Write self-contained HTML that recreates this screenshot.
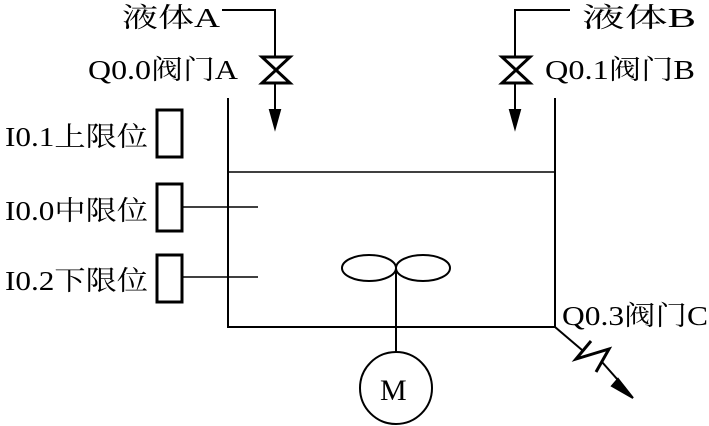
<!DOCTYPE html>
<html><head><meta charset="utf-8"><style>
html,body{margin:0;padding:0;background:#fff;width:709px;height:426px;overflow:hidden}
text{font-family:"Liberation Serif","Noto Serif CJK SC",serif;font-size:27px;fill:#000}
</style></head><body>
<svg width="709" height="426" viewBox="0 0 709 426" xmlns="http://www.w3.org/2000/svg">
<g stroke="#000" fill="none" stroke-width="2">
<polyline points="228,98 228,327 555,327 555,98"/>
<line x1="228" y1="172" x2="555" y2="172" stroke-width="1.5"/>
<polyline points="222,10 275,10 275,57"/>
<polygon points="262,57 290,57 262,83 290,83" stroke-width="3"/>
<line x1="275" y1="83" x2="275" y2="115"/>
<polygon points="270,110 280,110 275,128" fill="#000"/>
<polyline points="570,10 515,10 515,57"/>
<polygon points="502,57 530,57 502,83 530,83" stroke-width="3"/>
<line x1="515" y1="83" x2="515" y2="115"/>
<polygon points="510,110 520,110 515,128" fill="#000"/>
<rect x="157" y="110" width="25" height="47" stroke-width="3"/>
<rect x="157" y="184" width="25" height="47" stroke-width="3"/>
<rect x="157" y="255" width="25" height="47" stroke-width="3"/>
<line x1="182" y1="207" x2="258" y2="207" stroke-width="1.5"/>
<line x1="182" y1="277" x2="258" y2="277" stroke-width="1.5"/>
<ellipse cx="369" cy="268" rx="27" ry="13"/>
<ellipse cx="423" cy="268" rx="27" ry="13"/>
<line x1="396" y1="268" x2="396" y2="352"/>
<circle cx="396" cy="388" r="36"/>
<line x1="555" y1="327" x2="582" y2="350"/>
<polyline points="591,341 576,359 609,349 596,372" stroke-width="3"/>
<line x1="602" y1="362" x2="625" y2="388"/>
<polygon points="618,379 612,386 633,398" fill="#000"/>
</g>
<text x="122" y="27" textLength="98" lengthAdjust="spacingAndGlyphs">液体A</text>
<text x="88" y="79" textLength="150" lengthAdjust="spacingAndGlyphs">Q0.0阀门A</text>
<text x="582" y="27" textLength="114" lengthAdjust="spacingAndGlyphs">液体B</text>
<text x="545" y="79" textLength="150" lengthAdjust="spacingAndGlyphs">Q0.1阀门B</text>
<text x="5" y="146" textLength="143" lengthAdjust="spacingAndGlyphs">I0.1上限位</text>
<text x="5" y="220" textLength="143" lengthAdjust="spacingAndGlyphs">I0.0中限位</text>
<text x="5" y="290" textLength="143" lengthAdjust="spacingAndGlyphs">I0.2下限位</text>
<text x="562" y="325" textLength="146" lengthAdjust="spacingAndGlyphs">Q0.3阀门C</text>
<text x="380" y="400" style="font-size:30px">M</text>
</svg>
</body></html>
